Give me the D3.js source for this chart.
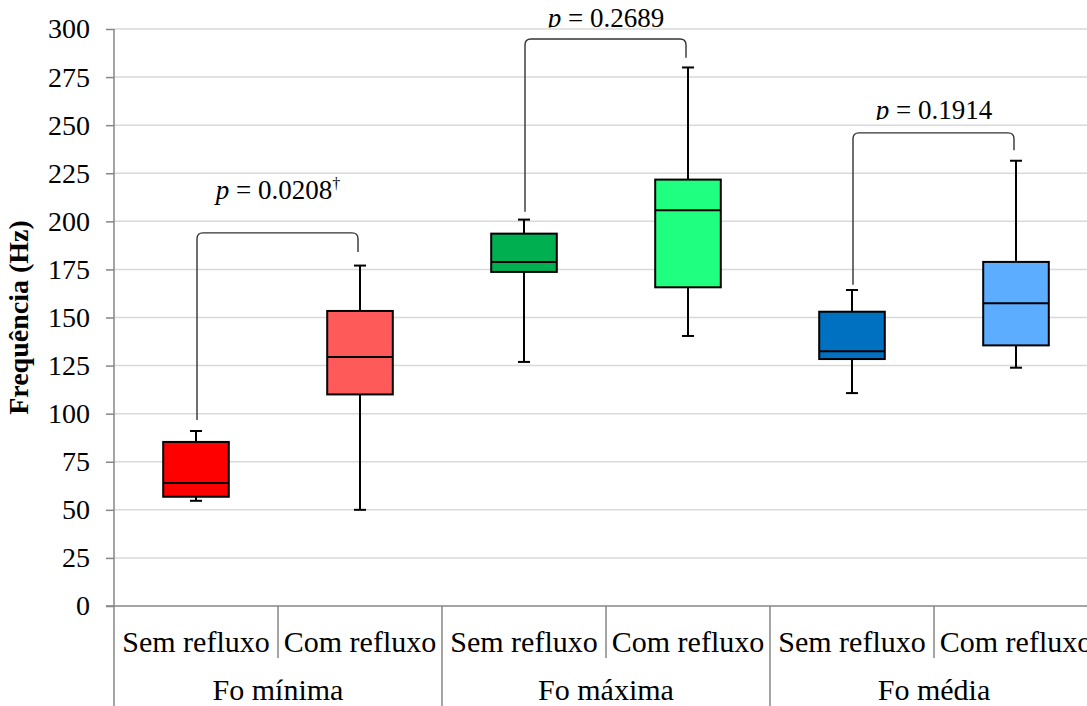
<!DOCTYPE html>
<html>
<head>
<meta charset="utf-8">
<script src="https://cdn.jsdelivr.net/npm/d3@7"></script>
<style>
  body { margin: 0; background: #fff; }
  svg { display: block; }
  svg text { font-family: "Liberation Serif", "DejaVu Serif", serif; }
  .grid line { stroke: #d9d9d9; stroke-width: 1.5; }
  .axis-line { stroke: #868686; stroke-width: 1.5; }
  .box { stroke: #000; stroke-width: 2; }
  .whisker { stroke: #000; stroke-width: 2; }
  .bracket { fill: none; stroke: #333; stroke-width: 1.4; }
</style>
</head>
<body>
<svg id="chart"></svg>
<script>
// Groups and categories
const groups = ['Fo mínima', 'Fo máxima', 'Fo média'];
const subGroups = ['Sem refluxo', 'Com refluxo'];

// Box statistics per category (in group order, Sem then Com)
const whiskerLow  = [54.7, 50,    126.9, 140.4, 110.7, 123.9];
const q1          = [56.8, 110,   173.7, 165.7, 128.4, 135.5];
const median      = [64,   129.5, 178.9, 205.7, 132.4, 157.4];
const q3          = [85.3, 153.4, 193.6, 221.7, 153,   178.9];
const whiskerHigh = [91,   177,   200.9, 280,   164.3, 231.5];
const boxColors   = ['#ff0000', '#ff5a5a', '#00b050', '#1fff80', '#0070c0', '#5cadff'];

// Significance annotations per group
const pValues      = ['0.0208', '0.2689', '0.1914'];
const pDagger      = [true, false, false];
const pLabelLevel  = [211.5, 301, 253];
const bracketTop   = [194, 294.8, 246];
const bracketLeft  = [96.7, 205, 167];
const bracketRight = [184, 285, 237];

// Y axis ticks
const yTicks = d3.range(0, 301, 25);

const config = {
  width: 1087,
  height: 706,
  margin: { top: 29, left: 114 },
  plotHeight: 577,
  catWidth: 164
};

const svg = d3.select('#chart')
  .attr('width', config.width)
  .attr('height', config.height);

const categories = [];
groups.forEach(g => subGroups.forEach(s => categories.push(g + '|' + s)));

const xScale = d3.scaleBand()
  .domain(categories)
  .range([config.margin.left, config.margin.left + config.catWidth * categories.length])
  .paddingInner(0).paddingOuter(0);

const yScale = d3.scaleLinear()
  .domain([0, 300])
  .range([config.margin.top + config.plotHeight, config.margin.top]);

const x0 = config.margin.left;
const yBase = yScale(0);
const bw = xScale.bandwidth();
const boxW = bw * 0.4;
const capW = 12;

// Gridlines
svg.append('g').attr('class', 'grid')
  .selectAll('line')
  .data(yTicks.filter(d => d > 0))
  .join('line')
  .attr('x1', x0).attr('x2', config.width)
  .attr('y1', d => yScale(d)).attr('y2', d => yScale(d));

// Y axis
const yAxis = d3.axisLeft(yScale)
  .tickValues(yTicks)
  .tickSize(8)
  .tickPadding(16)
  .tickSizeOuter(0);

const yAxisG = svg.append('g')
  .attr('transform', `translate(${x0},0)`)
  .call(yAxis)
  .attr('font-family', null)
  .attr('font-size', null);
yAxisG.select('.domain').remove();
yAxisG.selectAll('.tick line').attr('stroke', '#868686').attr('stroke-width', 1.5);
yAxisG.selectAll('.tick text')
  .attr('fill', '#000')
  .style('font-size', '28px');

// Axis lines: vertical y axis down to bottom, horizontal x axis
svg.append('line').attr('class', 'axis-line')
  .attr('x1', x0).attr('x2', x0)
  .attr('y1', config.margin.top).attr('y2', config.height);
svg.append('line').attr('class', 'axis-line')
  .attr('x1', x0 - 8).attr('x2', config.width)
  .attr('y1', yBase).attr('y2', yBase);

// Category dividers
categories.forEach((c, i) => {
  if (i === 0) return;
  const xd = xScale(c);
  const isGroupEdge = i % subGroups.length === 0;
  svg.append('line').attr('class', 'axis-line')
    .attr('x1', xd).attr('x2', xd)
    .attr('y1', yBase)
    .attr('y2', isGroupEdge ? config.height : yBase + 52);
});

// Category labels
svg.append('g').selectAll('text')
  .data(categories)
  .join('text')
  .attr('x', d => xScale(d) + bw / 2)
  .attr('y', yBase + 45.5)
  .attr('text-anchor', 'middle')
  .style('font-size', '30px')
  .text(d => d.split('|')[1]);

// Group labels
svg.append('g').selectAll('text')
  .data(groups)
  .join('text')
  .attr('x', (d, i) => xScale(categories[i * 2]) + bw)
  .attr('y', yBase + 94)
  .attr('text-anchor', 'middle')
  .style('font-size', '30px')
  .text(d => d);

// Y axis title
svg.append('text')
  .attr('transform', `translate(28,${(yScale(0) + yScale(300)) / 2}) rotate(-90)`)
  .attr('text-anchor', 'middle')
  .style('font-size', '28px')
  .style('font-weight', 'bold')
  .text('Frequência (Hz)');

// Brackets
const brackets = svg.append('g');
groups.forEach((g, i) => {
  const xl = xScale(categories[i * 2]) + bw / 2 + 1;
  const xr = xScale(categories[i * 2 + 1]) + bw / 2 - 2;
  const yt = yScale(bracketTop[i]);
  const r = 6;
  const path = `M${xl},${yScale(bracketLeft[i])} L${xl},${yt + r} Q${xl},${yt} ${xl + r},${yt}` +
    ` L${xr - r},${yt} Q${xr},${yt} ${xr},${yt + r} L${xr},${yScale(bracketRight[i])}`;
  brackets.append('path').attr('class', 'bracket').attr('d', path);
});

// Boxes
const boxes = svg.append('g').selectAll('g')
  .data(categories)
  .join('g')
  .attr('transform', d => `translate(${xScale(d) + bw / 2},0)`);

boxes.append('line').attr('class', 'whisker')
  .attr('x1', 0).attr('x2', 0)
  .attr('y1', (d, i) => yScale(whiskerHigh[i]))
  .attr('y2', (d, i) => yScale(q3[i]));
boxes.append('line').attr('class', 'whisker')
  .attr('x1', 0).attr('x2', 0)
  .attr('y1', (d, i) => yScale(q1[i]))
  .attr('y2', (d, i) => yScale(whiskerLow[i]));
boxes.append('line').attr('class', 'whisker')
  .attr('x1', -capW / 2).attr('x2', capW / 2)
  .attr('y1', (d, i) => yScale(whiskerHigh[i]))
  .attr('y2', (d, i) => yScale(whiskerHigh[i]));
boxes.append('line').attr('class', 'whisker')
  .attr('x1', -capW / 2).attr('x2', capW / 2)
  .attr('y1', (d, i) => yScale(whiskerLow[i]))
  .attr('y2', (d, i) => yScale(whiskerLow[i]));
boxes.append('rect').attr('class', 'box')
  .attr('x', -boxW / 2)
  .attr('width', boxW)
  .attr('y', (d, i) => yScale(q3[i]))
  .attr('height', (d, i) => yScale(q1[i]) - yScale(q3[i]))
  .attr('fill', (d, i) => boxColors[i]);
boxes.append('line').attr('class', 'whisker')
  .attr('x1', -boxW / 2).attr('x2', boxW / 2)
  .attr('y1', (d, i) => yScale(median[i]))
  .attr('y2', (d, i) => yScale(median[i]));

// p-value labels (two are clipped at their baseline, as in the original)
const defs = svg.append('defs');
groups.forEach((g, i) => {
  const cx = xScale(categories[i * 2]) + bw;
  const by = yScale(pLabelLevel[i]);
  const t = svg.append('text')
    .attr('x', cx)
    .attr('y', by)
    .attr('text-anchor', 'middle')
    .style('font-size', '27px');
  t.append('tspan').style('font-style', 'italic').text('p');
  t.append('tspan').text(' = ' + pValues[i]);
  if (pDagger[i]) {
    t.append('tspan').attr('dy', -10).style('font-size', '16px').text('†');
  } else {
    defs.append('clipPath').attr('id', 'pclip' + i)
      .append('rect')
      .attr('x', cx - 120).attr('width', 240)
      .attr('y', by - 40).attr('height', 40.5);
    t.attr('clip-path', `url(#pclip${i})`);
  }
});
</script>
</body>
</html>
